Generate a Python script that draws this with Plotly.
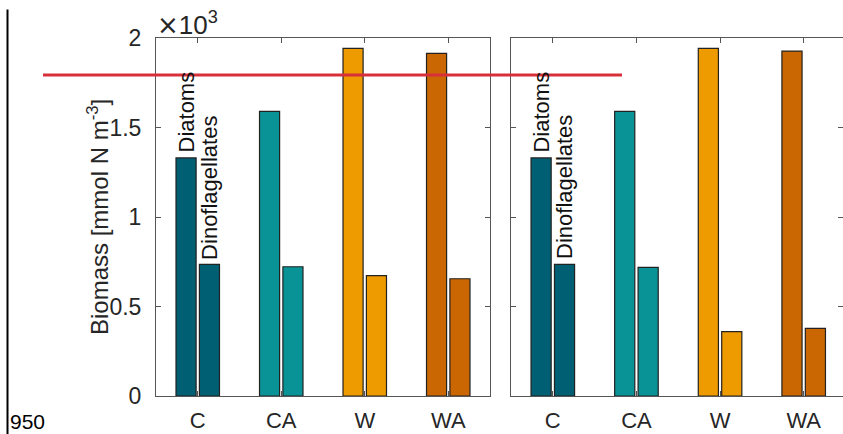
import plotly.graph_objects as go

categories = ["C", "CA", "W", "WA"]
colors = ["#005F73", "#0A9396", "#EE9B00", "#CA6702"]

# Left panel
left_diatoms = [1330, 1590, 1942, 1914]
left_dinos = [735, 722, 672, 655]
# Right panel
right_diatoms = [1330, 1590, 1942, 1927]
right_dinos = [735, 719, 360, 378]

y_tickvals = [0, 500, 1000, 1500, 2000]
y_ticktext = ["0", "0.5", "1", "1.5", "2"]
ref_line_value = 1793
corner_label = "950"

FONT = "Liberation Sans, Arial, Helvetica, sans-serif"
TXT = "#262626"
AX = "#555555"

W, H = 843, 434
fig = go.Figure()

xpos = list(range(1, len(categories) + 1))

def add_panel(diat, dino, xa, ya):
    fig.add_trace(go.Bar(x=xpos, y=diat, name="Diatoms", xaxis=xa, yaxis=ya,
                         marker=dict(color=colors, line=dict(color="#222222", width=1.2)),
                         showlegend=False))
    fig.add_trace(go.Bar(x=xpos, y=dino, name="Dinoflagellates", xaxis=xa, yaxis=ya,
                         marker=dict(color=colors, line=dict(color="#222222", width=1.2)),
                         showlegend=False))

add_panel(left_diatoms, left_dinos, "x", "y")
add_panel(right_diatoms, right_dinos, "x2", "y2")

x_common = dict(tickvals=xpos, ticktext=categories, ticks="inside", ticklen=5,
                tickcolor=AX, showline=True, linecolor=AX, linewidth=1, mirror="ticks",
                showgrid=False, zeroline=False, automargin=False,
                tickfont=dict(family=FONT, size=22, color=TXT), ticklabelstandoff=5)
y_common = dict(range=[0, 2000], tickvals=y_tickvals, ticktext=y_ticktext, ticks="inside",
                ticklen=5, tickcolor=AX, showline=True, linecolor=AX, linewidth=1,
                mirror="ticks", showgrid=False, zeroline=False, automargin=False,
                tickfont=dict(family=FONT, size=23, color=TXT))

fig.update_layout(
    width=W, height=H,
    margin=dict(l=0, r=0, t=0, b=0, pad=0),
    paper_bgcolor="white", plot_bgcolor="white",
    barmode="group", bargap=0.44, bargroupgap=0.14,
    xaxis=dict(domain=[156 / W, 490 / W], range=[0.5, 4.5], anchor="y", **x_common),
    yaxis=dict(domain=[1 - 396 / H, 1 - 38 / H], anchor="x", ticklabelstandoff=9, **y_common),
    xaxis2=dict(domain=[511 / W, 1.0], range=[0.5, 4.47], anchor="y2", **x_common),
    yaxis2=dict(domain=[1 - 396 / H, 1 - 38 / H], anchor="x2", showticklabels=False, **y_common),
)

off = 0.14
for xa, ya, diat, dino in [("x", "y", left_diatoms, left_dinos), ("x2", "y2", right_diatoms, right_dinos)]:
    fig.add_annotation(x=xpos[0] - off, y=diat[0], xref=xa, yref=ya, text="Diatoms",
                       textangle=-90, showarrow=False, xanchor="center", yanchor="bottom",
                       yshift=3, font=dict(family=FONT, size=22, color="#111111"))
    fig.add_annotation(x=xpos[0] + off, y=dino[0], xref=xa, yref=ya, text="Dinoflagellates",
                       textangle=-90, showarrow=False, xanchor="center", yanchor="bottom",
                       yshift=3, font=dict(family=FONT, size=22, color="#111111"))

# y-axis title
fig.add_annotation(x=98 / W, y=1 - 217 / H, xref="paper", yref="paper",
                   text="Biomass [mmol N m<sup>-3</sup>]", textangle=-90, showarrow=False,
                   xanchor="center", yanchor="middle", font=dict(family=FONT, size=24, color=TXT))
# exponent label
fig.add_annotation(x=155 / W, y=1 - 24 / H, xref="paper", yref="paper",
                   text="<span style='font-family:DejaVu Sans'>\u00d7</span>10<sup>3</sup>",
                   showarrow=False, xanchor="left", yanchor="middle",
                   font=dict(family=FONT, size=26, color=TXT))

# overlays from the screenshot
fig.add_shape(type="line", xref="paper", yref="y", x0=43 / W, x1=622 / W,
              y0=ref_line_value, y1=ref_line_value, line=dict(color="#D7303B", width=3))
fig.add_shape(type="line", xref="paper", yref="paper", x0=7.5 / W, x1=7.5 / W,
              y0=0, y1=1 - 9.5 / H, line=dict(color="black", width=2))
fig.add_annotation(x=8 / W, y=1 - 421 / H, xref="paper", yref="paper", text=corner_label,
                   showarrow=False, xanchor="left", yanchor="middle",
                   font=dict(family=FONT, size=21, color="black"))

fig.write_html("out.html")
